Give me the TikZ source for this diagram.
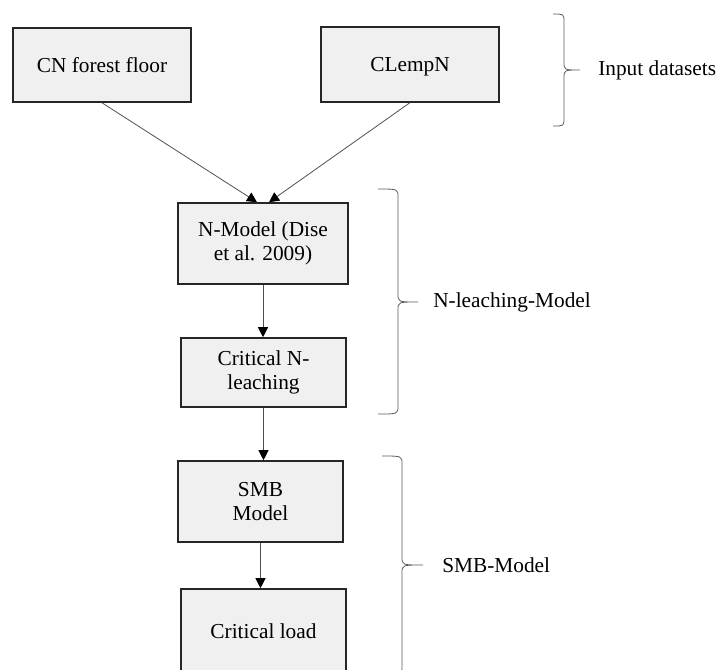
\documentclass[tikz,border=0pt]{standalone}
\usepackage{fontspec}
\setmainfont{Liberation Serif}
\usetikzlibrary{calc,arrows.meta}
\definecolor{boxfill}{HTML}{F0F0F0}
\definecolor{boxline}{HTML}{262626}
\definecolor{linegray}{HTML}{505050}
\definecolor{bracegray}{HTML}{5A5A5A}
\def\sidebrace(#1:#2:#3)(#4:#5:#6){\draw[bracestyle] (#1,#4) .. controls (#2,#4) .. (#2,#4+8) -- (#2,#5-8) .. controls (#2,#5) .. (#3,#5) .. controls (#2,#5) .. (#2,#5+8) -- (#2,#6-8) .. controls (#2,#6) .. (#1,#6);}

\begin{document}
\begin{tikzpicture}[x=0.75pt, y=-0.75pt, font=\fontsize{16}{18.5}\selectfont,
		box/.style={draw=boxline, fill=boxfill, line width=1.2pt, align=center, inner sep=0pt},
		flow/.style={draw=linegray, line width=0.6pt, -{Triangle[width=7.5pt,length=7.5pt,color=black]}},
		bracestyle/.style={draw=bracegray, line width=0.6pt},
		grouplabel/.style={anchor=west, inner sep=0pt}]
		%%%%% START %%%%%
		
		\useasboundingbox (0,0) rectangle (725,669);
		\clip (0,0) rectangle (725,669);
		
		% input datasets
		\node[box, minimum width=133.5pt, minimum height=55.5pt] (cnfloor) at (102,65) {CN forest floor};
		\node[box, minimum width=133.5pt, minimum height=56pt] (clempn) at (410,64.5) {\raisebox{0pt}[\height][0pt]{CLempN}};
		
		% N-leaching model
		\node[box, minimum width=127.5pt, minimum height=60.75pt] (nmodel) at (263,243.5) {N-Model (Dise\\et al. 2009)};
		\node[box, minimum width=123.75pt, minimum height=51.75pt] (critn) at (263.5,372.5) {Critical N-\\leaching};
		
		% SMB model
		\node[box, minimum width=123.75pt, minimum height=60.75pt] (smb) at (260.5,501.5) {SMB\\Model};
		\node[box, minimum width=123.75pt, minimum height=63pt] (critload) at (263.5,631) {Critical load};
		
		\draw[flow] (cnfloor.south) -- ($(nmodel.north)+(-6,0)$);
		\draw[flow] (clempn.south) -- ($(nmodel.north)+(6,0)$);
		\draw[flow] (nmodel.south) -- (nmodel.south |- critn.north);
		\draw[flow] (critn.south) -- (critn.south |- smb.north);
		\draw[flow] (smb.south) -- (smb.south |- critload.north);
		
		% braces and group labels
		\sidebrace(553:564:580)(14:70:126)
		\sidebrace(378:398:418)(189:302:414)
		\sidebrace(382:402:423)(456:565:674)
		
		\node[grouplabel] (inputlbl) at (598,70) {Input datasets};
		\node[grouplabel] (leachlbl) at (433,302) {N-leaching-Model};
		\node[grouplabel] (smblbl) at (442,565) {SMB-Model};
		
		%%%%% END %%%%%
	\end{tikzpicture}
\end{document}
